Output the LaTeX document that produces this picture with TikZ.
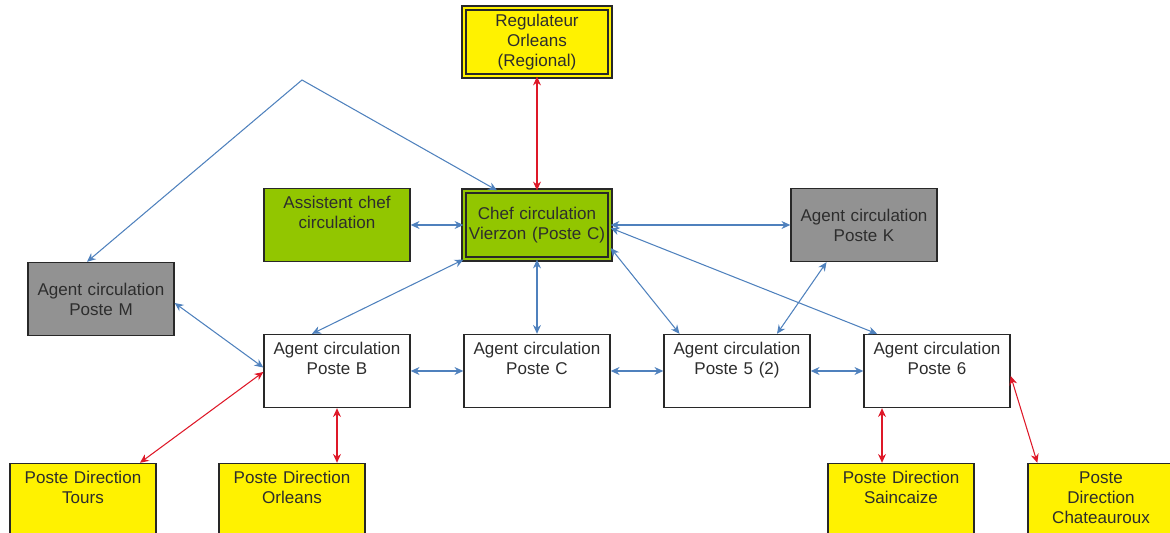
\documentclass[tikz,border=0pt]{standalone}
\usepackage{fontspec}
\setmainfont{Liberation Sans}
\usetikzlibrary{arrows.meta}

\definecolor{linkblue}{RGB}{79,129,189}
\definecolor{linkred}{RGB}{222,24,40}
\definecolor{chefgreen}{RGB}{146,198,0}
\definecolor{agentgray}{RGB}{146,146,146}
\definecolor{boxline}{RGB}{40,40,40}
\definecolor{textgray}{RGB}{45,45,45}

\tikzset{
    box/.style={draw=boxline, line width=0.8pt, text=textgray, text width=2.8cm, align=center,
        inner xsep=0.06cm, inner ysep=0pt, minimum width=2.92cm, minimum height=1.46cm},
    topbox/.style={box, text height=0.4cm, text depth=1.06cm},
    dbox/.style={box, fill=#1, double=#1, double distance=1.6pt, line width=0.7pt,
        minimum width=2.82cm, minimum height=1.36cm},
    bluelink/.style={<->, draw=linkblue, line width=0.6pt},
    redlink/.style={<->, draw=linkred, line width=0.6pt}
}

\begin{document}
\begin{tikzpicture}[x=0.02cm, y=-0.02cm, >={Stealth[length=5pt, width=4.5pt]}]
        \fontsize{9.7}{11.4}\selectfont
        \useasboundingbox (0,0) rectangle (1170,533);
        \clip (0,0) rectangle (1170,533);

        \node[dbox=yellow] (regulateur) at (537,42) {Regulateur\\Orleans\\(Regional)};
        \node[dbox=chefgreen] (chef) at (537,225) {Chef circulation\\Vierzon (Poste C)};
        \node[topbox, fill=chefgreen] (assistent) at (337,225) {Assistent chef\\circulation};
        \node[box, fill=agentgray] (posteK) at (864,225) {Agent circulation\\Poste K};
        \node[box, fill=agentgray] (posteM) at (101,299) {Agent circulation\\Poste M};

        \node[topbox] (posteB) at (337,371) {Agent circulation\\Poste B};
        \node[topbox] (posteC) at (537,371) {Agent circulation\\Poste C};
        \node[topbox] (poste5) at (737,371) {Agent circulation\\Poste 5 (2)};
        \node[topbox] (poste6) at (937,371) {Agent circulation\\Poste 6};

        \node[topbox, fill=yellow] (dirTours) at (83,500) {Poste Direction\\Tours};
        \node[topbox, fill=yellow] (dirOrleans) at (292,500) {Poste Direction\\Orleans};
        \node[topbox, fill=yellow] (dirSaincaize) at (901,500) {Poste Direction\\Saincaize};
        \node[topbox, fill=yellow] (dirChateauroux) at (1101,500) {Poste\\Direction\\Chateauroux};

        \coordinate (apex) at (302,80);

        \draw[bluelink] ([xshift=-0.28cm]posteM.north) -- (apex) -- ([xshift=-0.8cm]chef.north);
        \draw[bluelink] (assistent.east) -- (chef.west);
        \draw[bluelink] (chef.east) -- (posteK.west);
        \draw[bluelink] ([yshift=-0.06cm]chef.east) -- ([xshift=-1.2cm]poste6.north);
        \draw[bluelink] ([yshift=-0.46cm]chef.east) -- ([xshift=-1.15cm]poste5.north);
        \draw[bluelink] (chef.south) -- (posteC.north);
        \draw[bluelink] (chef.south west) -- ([xshift=-0.5cm]posteB.north);
        \draw[bluelink] ([yshift=-0.08cm]posteM.east) -- ([yshift=0.07cm]posteB.west);
        \draw[bluelink] ([xshift=0.8cm]poste5.north) -- ([xshift=-0.75cm]posteK.south);
        \draw[bluelink] (posteB.east) -- (posteC.west);
        \draw[bluelink] (posteC.east) -- (poste5.west);
        \draw[bluelink] (poste5.east) -- (poste6.west);

        \draw[redlink] (regulateur.south) -- (chef.north);
        \draw[redlink] ([xshift=1.14cm]dirTours.north) -- ([yshift=-0.02cm]posteB.west);
        \draw[redlink] (posteB.south) -- (posteB.south |- dirOrleans.north);
        \draw[redlink] ([xshift=-1.1cm]poste6.south) -- ([xshift=-1.1cm]poste6.south |- dirSaincaize.north);
        \draw[redlink] ([yshift=-0.1cm]poste6.east) -- ([xshift=0.2cm]dirChateauroux.north west);
    \end{tikzpicture}
\end{document}
